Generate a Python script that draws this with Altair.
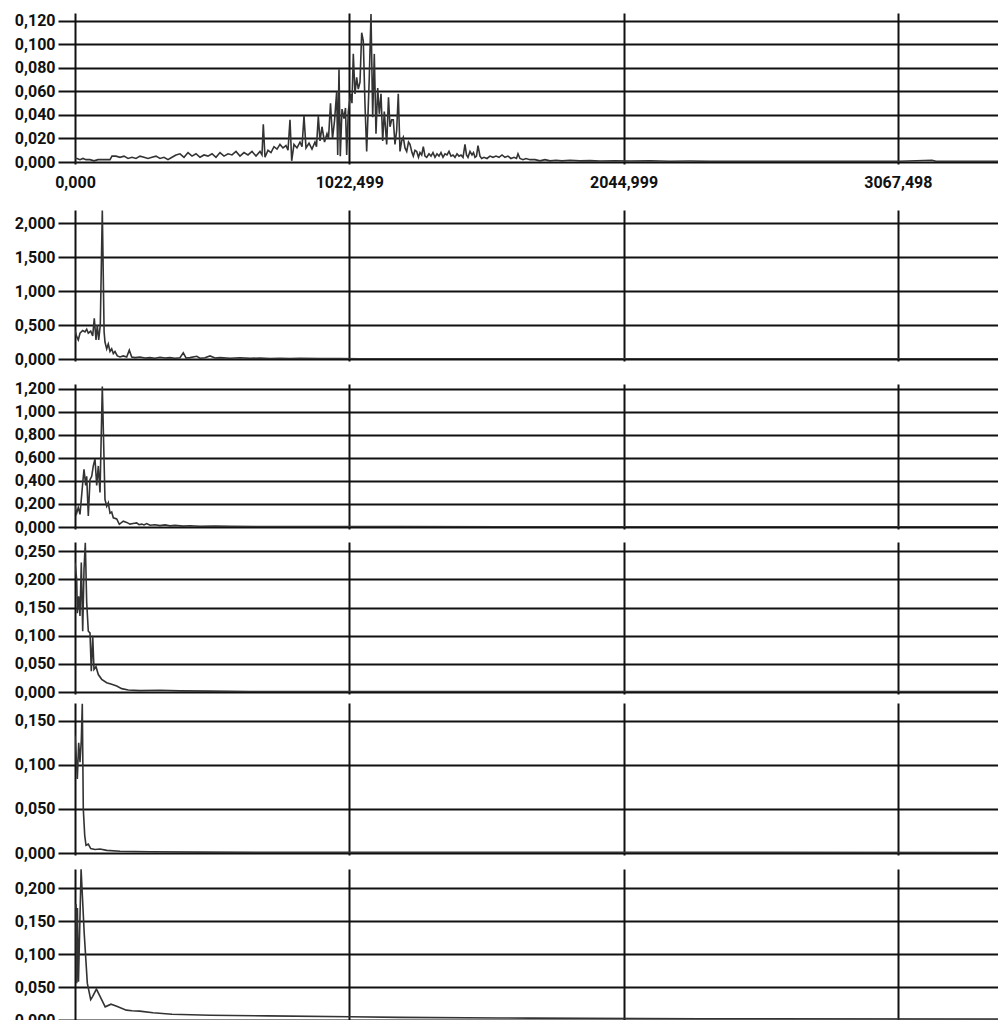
import altair as alt
import pandas as pd

# ---------------- data (frequency, amplitude) ----------------
X_VIEW_MAX = 3441          # right edge of the visible part of the frequency axis
X_TICKS = [0, 1022.499, 2044.999, 3067.498]

P1_TICKS = [0, 0.02, 0.04, 0.06, 0.08, 0.10, 0.12]
P2_TICKS = [0, 0.5, 1.0, 1.5, 2.0]
P3_TICKS = [0, 0.2, 0.4, 0.6, 0.8, 1.0, 1.2]
P4_TICKS = [0, 0.05, 0.10, 0.15, 0.20, 0.25]
P5_TICKS = [0, 0.05, 0.10, 0.15]
P6_TICKS = [0, 0.05, 0.10, 0.15, 0.20]

P1 = [
    (0, 0.003), (7.5, 0.003), (18.6, 0.002), (29.8, 0.003), (41, 0.002), (55.9, 0.002),
    (70.8, 0.001), (85.7, 0.002), (100.7, 0.002), (115.6, 0.002), (130.5, 0.002),
    (137.9, 0.005), (152.8, 0.005), (167.8, 0.004), (182.7, 0.005), (197.6, 0.003),
    (212.5, 0.004), (227.4, 0.003), (242.3, 0.005), (257.2, 0.004), (272.1, 0.003),
    (287.1, 0.004), (302, 0.005), (316.9, 0.003), (331.8, 0.004), (346.7, 0.002),
    (361.6, 0.004), (376.5, 0.006), (391.4, 0.007), (406.4, 0.004), (421.3, 0.008),
    (436.2, 0.005), (451.1, 0.007), (466, 0.004), (480.9, 0.006), (495.8, 0.005),
    (510.7, 0.007), (525.6, 0.004), (540.6, 0.008), (555.5, 0.005), (570.4, 0.007),
    (585.3, 0.006), (600.2, 0.009), (615.1, 0.005), (630, 0.008), (644.9, 0.006),
    (659.9, 0.009), (674.8, 0.005), (689.7, 0.009), (697.1, 0.006), (702, 0.032),
    (708.3, 0.004), (719.5, 0.010), (730.7, 0.008), (741.9, 0.013), (753.1, 0.011),
    (764.2, 0.015), (775.4, 0.012), (786.6, 0.014), (794.1, 0.010), (801.5, 0.036),
    (807.8, 0.001), (816.4, 0.015), (827.6, 0.012), (838.8, 0.017), (846.3, 0.013),
    (853.7, 0.039), (861.2, 0.012), (872.4, 0.016), (883.5, 0.011), (894.7, 0.017),
    (900.3, 0.013), (907, 0.039), (913.4, 0.018), (920.8, 0.030), (930.2, 0.017),
    (939.5, 0.024), (945.1, 0.020), (952.5, 0.050), (960, 0.020), (967.5, 0.035),
    (975.6, 0.060), (979.4, 0.006), (984.2, 0.079), (989, 0.005), (995.4, 0.045),
    (1002.8, 0.037), (1008.4, 0.046), (1012.9, 0.006), (1018.8, 0.043), (1027.8, 0.058),
    (1032.6, 0.050), (1037.5, 0.092), (1043.8, 0.058), (1050.1, 0.072), (1056.1, 0.062),
    (1062.5, 0.068), (1068.8, 0.110), (1074.8, 0.103), (1081.1, 0.049), (1087.4, 0.009),
    (1092.3, 0.040), (1097.1, 0.072), (1103.5, 0.126), (1109.8, 0.038), (1115.8, 0.092),
    (1122.1, 0.024), (1128.5, 0.063), (1134.4, 0.041), (1140.8, 0.058), (1147.1, 0.018),
    (1153.1, 0.043), (1162, 0.015), (1168.7, 0.055), (1174.3, 0.030), (1180.6, 0.036),
    (1186.6, 0.036), (1192.9, 0.015), (1199.3, 0.027), (1205.2, 0.058), (1211.6, 0.009),
    (1217.9, 0.018), (1223.9, 0.021), (1230.2, 0.012), (1236.6, 0.009), (1243.3, 0.017),
    (1248.9, 0.015), (1256.3, 0.008), (1261.2, 0.005), (1267.5, 0.010), (1273.9, 0.009),
    (1280.6, 0.004), (1286.2, 0.008), (1292.5, 0.006), (1298.5, 0.013), (1304.8, 0.005),
    (1311.2, 0.004), (1319.7, 0.007), (1327.2, 0.005), (1334.6, 0.008), (1342.1, 0.004),
    (1349.5, 0.007), (1357, 0.005), (1364.4, 0.008), (1371.9, 0.004), (1379.4, 0.007),
    (1386.8, 0.006), (1394.3, 0.009), (1401.7, 0.005), (1409.2, 0.006), (1416.6, 0.004),
    (1424.1, 0.007), (1431.6, 0.005), (1439, 0.006), (1446.5, 0.004), (1453.9, 0.015),
    (1459.5, 0.006), (1465.1, 0.004), (1472.6, 0.009), (1480, 0.006), (1485.6, 0.008),
    (1491.2, 0.004), (1496.8, 0.005), (1502.4, 0.014), (1509.8, 0.005), (1516.2, 0.003),
    (1524.7, 0.004), (1535.9, 0.003), (1547.1, 0.005), (1558.3, 0.004), (1569.5, 0.005),
    (1580.7, 0.004), (1591.9, 0.006), (1603, 0.004), (1614.2, 0.005), (1625.4, 0.003),
    (1636.6, 0.004), (1645.9, 0.003), (1651.5, 0.007), (1658.9, 0.003), (1670.1, 0.002),
    (1681.3, 0.003), (1696.2, 0.002), (1714.9, 0.002), (1733.5, 0.001), (1752.2, 0.002),
    (1770.8, 0.001), (1793.2, 0.0015), (1815.5, 0.001), (1845.4, 0.0015), (1882.6, 0.001),
    (1919.9, 0.0012), (1957.2, 0.0008), (2013.1, 0.001), (2069, 0.0008), (2143.6, 0.001),
    (2218.2, 0.0007), (2292.7, 0.0008), (2367.3, 0.0006), (2441.9, 0.0007),
    (2516.4, 0.0006), (2628.2, 0.0007), (2740.1, 0.0006), (2851.9, 0.0007),
    (2963.8, 0.0006), (3075.6, 0.0007), (3194.9, 0.0015), (3210, 0.0006), (3299.2, 0.0007),
    (3411.1, 0.0006), (3522.9, 0.0007), (3700, 0.0006), (3900, 0.0007), (4089.997, 0.0006),
]

P2 = [
    (0, 0.42), (6.3, 0.33), (12.3, 0.28), (18.6, 0.38), (28.7, 0.42), (37.3, 0.40),
    (43.6, 0.44), (49.6, 0.38), (58.5, 0.41), (66, 0.34), (71.9, 0.60), (78.3, 0.28),
    (83.1, 0.50), (88.4, 0.28), (94.3, 0.50), (101.8, 2.19), (108.5, 0.40), (111.8, 0.25),
    (118.2, 0.15), (124.1, 0.22), (130.5, 0.11), (136.8, 0.15), (142.8, 0.08), (149.1, 0.11),
    (157.7, 0.045), (167.8, 0.03), (180.1, 0.045), (192.7, 0.03), (202.4, 0.13), (211.4, 0.03),
    (223.7, 0.02), (242.3, 0.03), (261, 0.015), (279.6, 0.02), (298.2, 0.012), (316.9, 0.025),
    (335.5, 0.015), (354.2, 0.02), (372.8, 0.012), (391.4, 0.018), (403.7, 0.09), (413.8, 0.015),
    (428.7, 0.02), (453.7, 0.04), (466, 0.012), (484.6, 0.018), (503.3, 0.045), (521.9, 0.015),
    (540.6, 0.02), (577.8, 0.012), (615.1, 0.018), (652.4, 0.01), (689.7, 0.015), (727, 0.008),
    (764.2, 0.012), (801.5, 0.006), (838.8, 0.01), (913.4, 0.006), (988, 0.005), (1062.5, 0.004),
    (1211.6, 0.003), (1398, 0.003), (1584.4, 0.002), (1957.2, 0.002), (2330, 0.002),
    (2702.8, 0.0015), (3075.6, 0.0015), (3448.4, 0.0015), (4089.997, 0.0015),
]

P3 = [
    (0, 0.18), (6.3, 0.12), (12.3, 0.17), (18.6, 0.11), (28.7, 0.38), (33.6, 0.50),
    (39.9, 0.36), (43.6, 0.44), (49.6, 0.095), (55.9, 0.41), (62.3, 0.44), (68.2, 0.53),
    (74.6, 0.59), (80.9, 0.36), (86.9, 0.53), (93.2, 0.30), (101.8, 1.22), (111.8, 0.24),
    (118.2, 0.18), (124.1, 0.21), (130.5, 0.12), (136.8, 0.13), (142.8, 0.08), (155.5, 0.07),
    (165.2, 0.023), (180.1, 0.05), (192.7, 0.04), (205, 0.025), (216.2, 0.03), (230, 0.035),
    (238.6, 0.02), (248.7, 0.025), (257.2, 0.018), (267.3, 0.03), (279.6, 0.015),
    (298.2, 0.02), (316.9, 0.012), (335.5, 0.018), (354.2, 0.01), (372.8, 0.014),
    (402.6, 0.008), (428.7, 0.011), (466, 0.006), (521.9, 0.008), (577.8, 0.005),
    (689.7, 0.004), (838.8, 0.003), (1211.6, 0.003), (1584.4, 0.002), (1957.2, 0.0015),
    (2702.8, 0.0015), (4089.997, 0.0015),
]

P4 = [
    (0, 0.23), (6.3, 0.20), (8.6, 0.14), (13.8, 0.17), (18.6, 0.135), (23.5, 0.23),
    (28.7, 0.108), (33.6, 0.218), (38.4, 0.265), (43.6, 0.159), (49.6, 0.108), (55.9, 0.105),
    (60.8, 0.037), (66, 0.10), (70.8, 0.04), (78.3, 0.045), (86.9, 0.031), (99.5, 0.0225),
    (118.2, 0.0166), (136.8, 0.0136), (155.5, 0.0107), (174.1, 0.006), (198.7, 0.0036),
    (242.3, 0.0025), (316.9, 0.003), (391.4, 0.002), (503.3, 0.0015), (652.4, 0.001),
    (1025.2, 0.001), (1584.4, 0.0008), (4089.997, 0.0008),
]

P5 = [
    (0, 0.133), (3.7, 0.114), (8.6, 0.084), (13.8, 0.125), (18.6, 0.103), (23.5, 0.128),
    (27.2, 0.169), (30.9, 0.05), (36.2, 0.02), (41, 0.0087), (49.6, 0.010), (58.5, 0.005),
    (74.6, 0.004), (93.2, 0.0045), (118.2, 0.003), (167.8, 0.002), (279.6, 0.0015),
    (466, 0.001), (838.8, 0.0008), (4089.997, 0.0006),
]

P6 = [
    (0, 0.17), (4, 0.176), (6.5, 0.056), (9, 0.17), (13, 0.058), (22.7, 0.229),
    (34.3, 0.132), (45.9, 0.056), (58.5, 0.031), (66, 0.036), (79.8, 0.047), (94.3, 0.035),
    (112.6, 0.020), (134.2, 0.024), (155.5, 0.021), (191.3, 0.015), (212.5, 0.014),
    (241.2, 0.0135), (290.8, 0.011), (361.6, 0.0087), (503.3, 0.0072), (719.5, 0.0062),
    (1025.2, 0.005), (1211.6, 0.004), (1584.4, 0.003), (1696, 0.0028), (2330, 0.002),
    (3448, 0.0015), (4089.997, 0.0012),
]

# ---------------- styling ----------------
LINE_COLOR = "#333333"
GRID_COLOR = "#111111"
FONT = "Roboto"
FONT_SIZE = 16
PLOT_W = 923
LEFT_EXTENT = 67

COMMA_FMT = "replace(format(datum.value, '.3f'), '.', ',')"


def panel(pairs, ymax, yticks, height, gap, show_labels):
    df = pd.DataFrame(pairs, columns=["f", "v"])
    x_axis = alt.Axis(
        values=X_TICKS, grid=True, gridColor=GRID_COLOR, gridWidth=2, gridOpacity=1,
        domain=False, ticks=True, tickSize=2, tickColor=GRID_COLOR, tickWidth=2,
        labels=show_labels, labelExpr=COMMA_FMT, labelPadding=10, labelFont=FONT,
        labelFontSize=FONT_SIZE, labelFontWeight="bold", labelColor="#111",
        labelFlush=False, labelOverlap=False, title=None,
        minExtent=gap, maxExtent=gap,
    )
    y_axis = alt.Axis(
        values=yticks, grid=True, gridColor=GRID_COLOR, gridWidth=2, gridOpacity=1,
        domain=False, ticks=True, tickSize=17, tickColor=GRID_COLOR, tickWidth=2,
        labelExpr=COMMA_FMT, labelPadding=3, labelFont=FONT, labelFontSize=FONT_SIZE,
        labelFontWeight="bold", labelColor="#111", labelFlush=False, labelOverlap=False,
        title=None, minExtent=LEFT_EXTENT, maxExtent=LEFT_EXTENT,
    )
    return (
        alt.Chart(df)
        .mark_line(color=LINE_COLOR, strokeWidth=1.6, clip=True)
        .encode(
            x=alt.X("f:Q", scale=alt.Scale(domain=[0, X_VIEW_MAX], nice=False, zero=False), axis=x_axis),
            y=alt.Y("v:Q", scale=alt.Scale(domain=[0, ymax], nice=False), axis=y_axis),
        )
        .properties(width=PLOT_W, height=height)
    )


chart = alt.vconcat(
    panel(P1, 0.1268, P1_TICKS, 149, 47.5, True),
    panel(P2, 2.196, P2_TICKS, 149, 20.5, False),
    panel(P3, 1.241, P3_TICKS, 143, 15, False),
    panel(P4, 0.2665, P4_TICKS, 150, 11, False),
    panel(P5, 0.170, P5_TICKS, 150, 16, False),
    panel(P6, 0.2294, P6_TICKS, 151, 2, False),
    spacing=0,
    bounds="full",
).properties(
    padding={"top": 4, "left": 0, "right": 0, "bottom": 0},
    background="white",
).configure_view(stroke=None)

chart.save("out.html", embed_options={"renderer": "svg", "actions": False})
